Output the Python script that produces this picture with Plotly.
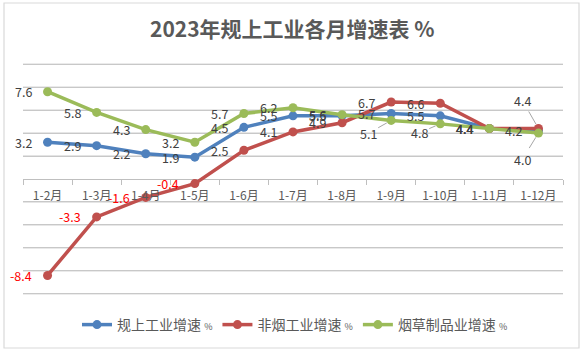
import plotly.graph_objects as go

categories = ["1-2月", "1-3月", "1-4月", "1-5月", "1-6月", "1-7月", "1-8月", "1-9月", "1-10月", "1-11月", "1-12月"]
industry = [3.2, 2.9, 2.2, 1.9, 4.5, 5.5, 5.5, 5.7, 5.5, 4.4, 4.2]
non_tobacco = [-8.4, -3.3, -1.6, -0.4, 2.5, 4.1, 4.9, 6.7, 6.6, 4.4, 4.4]
tobacco = [7.6, 5.8, 4.3, 3.2, 5.7, 6.2, 5.6, 5.1, 4.8, 4.4, 4.0]
y_grid_values = [-10, -8, -6, -4, -2, 2, 4, 6, 8, 10]

series_names = ["规上工业增速", "非烟工业增速", "烟草制品业增速"]
series_values = [industry, non_tobacco, tobacco]
colors = ["#4F81BD", "#C0504D", "#9BBB59"]

# labels drawn with a leader line: (series index, category index) -> (ax, ay) pixel offset
leader_labels = {(2, 7): (-23, 13), (2, 8): (-21, 9), (1, 10): (-16, -28), (2, 10): (-16, 26)}

FONT = "Noto Sans CJK SC"
W, H = 587, 355
L, R, T, B = 23, 24, 63, 60
pw, ph = W - L - R, H - T - B

fig = go.Figure()
for name, vals, col in zip(series_names, series_values, colors):
    fig.add_trace(go.Scatter(
        x=categories, y=vals, mode="lines+markers",
        name=f"{name} <span style='font-size:9px'>%</span>",
        line=dict(color=col, width=3.5),
        marker=dict(color=col, size=9),
        hoverinfo="skip",
    ))

annotations = []
for si, vals in enumerate(series_values):
    for ci, v in enumerate(vals):
        color = "#FF0000" if v < 0 else "#404040"
        txt = f"{v:.1f}"
        if (si, ci) in leader_labels:
            ax, ay = leader_labels[(si, ci)]
            annotations.append(dict(
                x=categories[ci], y=v, text=txt, showarrow=True, arrowhead=0,
                arrowwidth=1, arrowcolor="#A6A6A6", ax=ax, ay=ay, standoff=5,
                font=dict(family=FONT, size=12.5, color=color)))
        else:
            annotations.append(dict(
                x=categories[ci], y=v, text=txt, showarrow=False,
                xanchor="right", yanchor="middle", xshift=-14,
                font=dict(family=FONT, size=12.5, color=color)))

annotations.append(dict(
    xref="paper", yref="paper", x=(292 - L) / pw, y=(H - B - 28) / ph,
    text="<b>2023年规上工业各月增速表 %</b>", showarrow=False,
    xanchor="center", yanchor="middle",
    font=dict(family=FONT, size=21, color="#595959")))

shapes = [dict(type="line", xref="paper", yref="y", x0=0, x1=1, y0=g, y1=g,
               line=dict(color="#C8C8C8", width=1), layer="below")
          for g in y_grid_values]
shapes.append(dict(type="rect", xref="paper", yref="paper",
                   x0=(4 - L) / pw, x1=(579 - L) / pw,
                   y0=(H - B - 348) / ph, y1=(H - B - 3) / ph,
                   line=dict(color="#D9D9D9", width=1.2),
                   fillcolor="rgba(0,0,0,0)", layer="above"))

fig.update_layout(
    width=W, height=H,
    margin=dict(l=L, r=R, t=T, b=B, autoexpand=False),
    paper_bgcolor="white", plot_bgcolor="white",
    showlegend=True,
    legend=dict(orientation="h", x=(295 - L) / pw, xanchor="center", y=(H - B - 325) / ph,
                yanchor="middle", font=dict(family=FONT, size=14, color="#595959"),
                itemwidth=30, bgcolor="rgba(0,0,0,0)"),
    annotations=annotations,
    shapes=shapes,
    xaxis=dict(type="category", range=[-0.5, len(categories) - 0.5],
               anchor="free", position=0.5, showline=False,
               ticks="outside", tickson="boundaries", ticklen=5, tickcolor="#BFBFBF",
               ticklabelstandoff=8,
               showgrid=False, fixedrange=True,
               tickfont=dict(family=FONT, size=12, color="#595959")),
    yaxis=dict(range=[-10.1, 10.1], dtick=2,
               showticklabels=False, showgrid=True,
               gridcolor="#C8C8C8", gridwidth=1,
               zeroline=True, zerolinecolor="#BFBFBF", zerolinewidth=1,
               fixedrange=True),
)

fig.write_html("out.html", post_script="document.body.style.margin='0';",
               config={"displayModeBar": False})
